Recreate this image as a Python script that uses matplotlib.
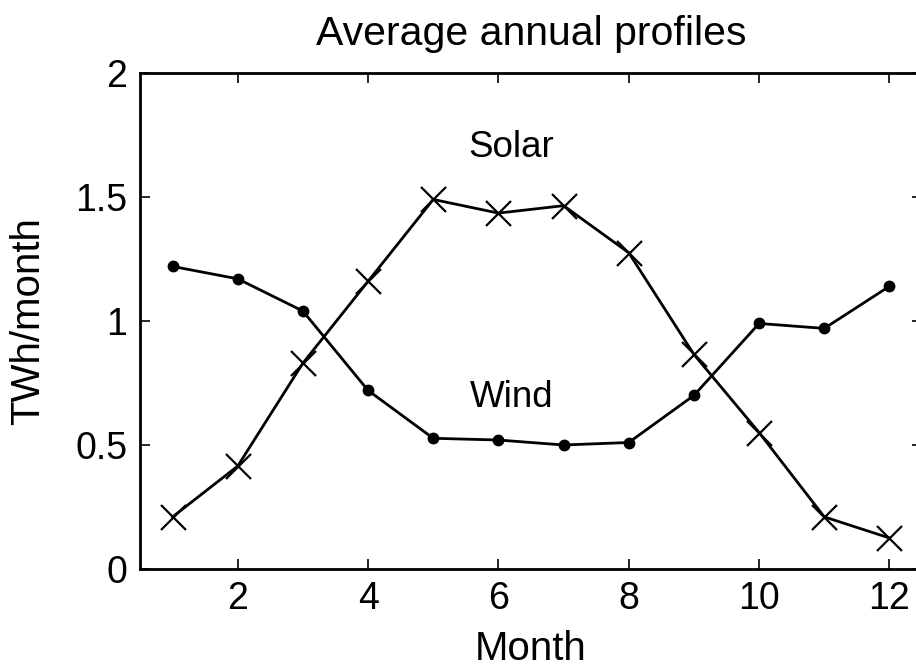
import numpy as np
import matplotlib
matplotlib.use("Agg")
import matplotlib.pyplot as plt

plt.rcParams['font.family'] = ['Liberation Sans', 'DejaVu Sans']

months = [1, 2, 3, 4, 5, 6, 7, 8, 9, 10, 11, 12]
solar = [0.21, 0.415, 0.83, 1.16, 1.49, 1.435, 1.465, 1.275, 0.865, 0.55, 0.21, 0.125]
wind = [1.22, 1.17, 1.04, 0.72, 0.527, 0.52, 0.50, 0.51, 0.70, 0.99, 0.97, 1.14]

fig = plt.figure(figsize=(9.16, 6.72), dpi=100)
ax = fig.add_axes([0.1528, 0.1533, 0.8538, 0.7381])

ax.plot(months, solar, color='black', lw=2.0, marker='x', ms=18, mew=1.6)
ax.plot(months, wind, color='black', lw=2.0, marker='o', ms=7.5)

ax.text(6.2, 1.70, 'Solar', fontsize=26.5, ha='center', va='center')
ax.text(6.2, 0.69, 'Wind', fontsize=26.5, ha='center', va='center')

ax.set_xlim(0.5, 12.5)
ax.set_ylim(0, 2)
ax.set_xticks([2, 4, 6, 8, 10, 12])
ax.set_yticks([0, 0.5, 1, 1.5, 2])
ax.set_yticklabels(['0', '0.5', '1', '1.5', '2'])
ax.tick_params(direction='in', top=True, right=True, length=7, width=1.2,
               labelsize=27, pad=9)
for s in ax.spines.values():
    s.set_linewidth(2.0)

ax.set_title('Average annual profiles', fontsize=29.5, pad=20)
ax.set_xlabel('Month', fontsize=29, labelpad=9)
ax.set_ylabel('TWh/month', fontsize=29, labelpad=20)

fig.savefig('out.png', dpi=100)
